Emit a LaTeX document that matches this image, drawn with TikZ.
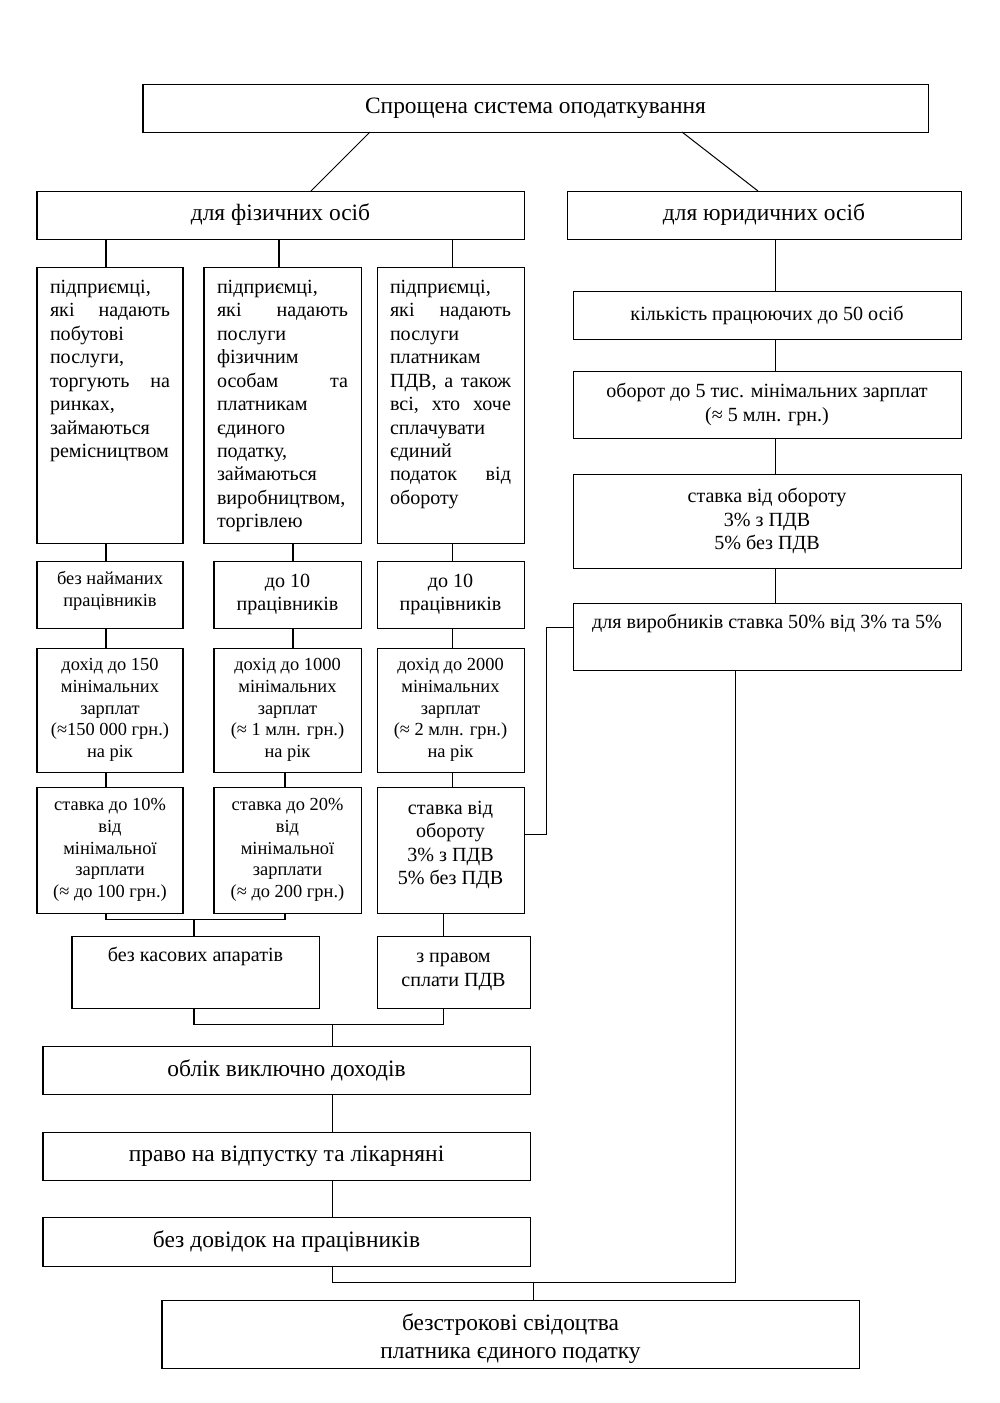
\documentclass[tikz,border=0pt]{standalone}
\usepackage{fontspec}
\setmainfont{Liberation Serif}
\newlength{\unitpx}
\setlength{\unitpx}{0.021cm}
\tikzset{boxsize/.style 2 args={minimum width=#1*\unitpx, minimum height=#2*\unitpx}}
\newcommand{\tallbody}[2]{\parbox[t][256\unitpx][t]{#1\unitpx}{\strut #2}}

\begin{document}
\begin{tikzpicture}[x=0.021cm, y=-0.021cm]
\tikzstyle{block} = [draw=black, line width=0.6pt, anchor=north west, inner sep=0pt, outer sep=0pt, align=center]
\tikzstyle{big} = [font=\fontsize{14}{16}\selectfont]
\tikzstyle{mid} = [font=\fontsize{12}{14}\selectfont]
\tikzstyle{small} = [font=\fontsize{11}{12.9}\selectfont]
\tikzstyle{tall} = [block, mid, inner xsep=13*\unitpx, inner ysep=10*\unitpx]
\tikzstyle{link} = [line width=0.6pt]

\useasboundingbox (0,0) rectangle (1000,1403);

\node (Title) [block, big, boxsize={785}{48}] at (143,84) {Спрощена система оподаткування};
\node (Individuals) [block, big, boxsize={487}{48}] at (37,191) {для фізичних осіб};
\node (Legal) [block, big, boxsize={394}{48}] at (567,191) {для юридичних осіб};

% individuals: three groups
\node (GroupOne) [tall, boxsize={146}{276}] at (37,267) {\tallbody{120}{підприємці,\\ які\hfill надають\\ побутові\\ послуги,\\ торгують\hfill на\\ ринках,\\ займаються\\ ремісництвом}};
\node (GroupTwo) [tall, boxsize={157}{276}] at (204,267) {\tallbody{131}{підприємці,\\ які\hfill надають\\ послуги\\ фізичним\\ особам\hfill та\\ платникам\\ єдиного\\ податку,\\ займаються\\ виробництвом,\\ торгівлею}};
\node (GroupThree) [tall, boxsize={147}{276}] at (377,267) {\tallbody{121}{підприємці,\\ які\hfill надають\\ послуги\\ платникам\\ ПДВ,\hfill а\hfill також\\ всі,\hfill хто\hfill хоче\\ сплачувати\\ єдиний\\ податок\hfill від\\ обороту}};

\node (StaffOne) [block, small, boxsize={146}{67}] at (37,561) {без найманих\\працівників\rule[-7pt]{0pt}{0pt}};
\node (StaffTwo) [block, mid, boxsize={147}{67}] at (214,561) {до 10\\працівників};
\node (StaffThree) [block, mid, boxsize={147}{67}] at (377,561) {до 10\\працівників};

\node (IncomeOne) [block, small, boxsize={146}{124}] at (37,648) {дохід до 150\\мінімальних\\зарплат\\(≈150 000 грн.)\\на рік};
\node (IncomeTwo) [block, small, boxsize={147}{124}] at (214,648) {дохід до 1000\\мінімальних\\зарплат\\(≈ 1 млн. грн.)\\на рік};
\node (IncomeThree) [block, small, boxsize={147}{124}] at (377,648) {дохід до 2000\\мінімальних\\зарплат\\(≈ 2 млн. грн.)\\на рік};

\node (RateOne) [block, small, boxsize={146}{126}] at (37,787) {ставка до 10\%\\від\\мінімальної\\зарплати\\(≈ до 100 грн.)};
\node (RateTwo) [block, small, boxsize={147}{126}] at (214,787) {ставка до 20\%\\від\\мінімальної\\зарплати\\(≈ до 200 грн.)};
\node (RateThree) [block, mid, boxsize={147}{126}] at (377,787) {ставка від\\обороту\\3\% з ПДВ\\5\% без ПДВ\rule[-8.5pt]{0pt}{0pt}};

\node (NoCashRegister) [block, mid, boxsize={247}{72}, text height=25*\unitpx, text depth=47*\unitpx] at (72,936) {без касових апаратів};
\node (VatRight) [block, mid, boxsize={153}{72}] at (377,936) {з правом\\сплати ПДВ};

\node (IncomeOnly) [block, big, boxsize={487}{48}] at (43,1046) {облік виключно доходів};
\node (Leave) [block, big, boxsize={487}{48}] at (43,1132) {право на відпустку та лікарняні};
\node (NoReports) [block, big, boxsize={487}{49}] at (43,1217) {без довідок на працівників};
\node (Certificate) [block, font=\fontsize{14}{16.7}\selectfont, boxsize={697}{68}] at (162,1300) {\rule{0pt}{16pt}безстрокові свідоцтва\\платника єдиного податку};

% legal entities
\node (StaffLimit) [block, mid, boxsize={388}{48}] at (573,291) {кількість працюючих до 50 осіб};
\node (TurnoverLimit) [block, mid, boxsize={388}{67}] at (573,371) {оборот до 5 тис. мінімальних зарплат\\(≈ 5 млн. грн.)};
\node (TurnoverRate) [block, mid, boxsize={388}{94}] at (573,474) {ставка від обороту\\3\% з ПДВ\\5\% без ПДВ};
\node (Producers) [block, mid, boxsize={388}{67}, text height=25*\unitpx, text depth=42*\unitpx] at (573,603) {для виробників ставка 50\% від 3\% та 5\%};

\coordinate (JoinRates) at (194,919);
\coordinate (JoinPrivileges) at (332,1024);
\coordinate (JoinFinal) at (533,1282);

\draw [link] (370,0 |- Title.south) -- (311,0 |- Individuals.north);
\draw [link] (682,0 |- Title.south) -- (758,0 |- Legal.north);

\draw [link] (106,0 |- Individuals.south) -- (106,0 |- GroupOne.north);
\draw [link] (279,0 |- Individuals.south) -- (279,0 |- GroupTwo.north);
\draw [link] (452,0 |- Individuals.south) -- (452,0 |- GroupThree.north);

\draw [link] (106,0 |- GroupOne.south) -- (106,0 |- StaffOne.north);
\draw [link] (293,0 |- GroupTwo.south) -- (293,0 |- StaffTwo.north);
\draw [link] (452,0 |- GroupThree.south) -- (452,0 |- StaffThree.north);

\draw [link] (106,0 |- StaffOne.south) -- (106,0 |- IncomeOne.north);
\draw [link] (293,0 |- StaffTwo.south) -- (293,0 |- IncomeTwo.north);
\draw [link] (452,0 |- StaffThree.south) -- (452,0 |- IncomeThree.north);

\draw [link] (106,0 |- IncomeOne.south) -- (106,0 |- RateOne.north);
\draw [link] (285,0 |- IncomeTwo.south) -- (285,0 |- RateTwo.north);
\draw [link] (452,0 |- IncomeThree.south) -- (452,0 |- RateThree.north);

\draw [link] (106,0 |- RateOne.south) |- (JoinRates) -| (285,0 |- RateTwo.south);
\draw [link] (JoinRates) -- (JoinRates |- NoCashRegister.north);
\draw [link] (443,0 |- RateThree.south) -- (443,0 |- VatRight.north);
\draw [link] (RateThree.east |- 0,834) -- (546,834) |- (Producers.west |- 0,627);

\draw [link] (194,0 |- NoCashRegister.south) |- (JoinPrivileges) -| (443,0 |- VatRight.south);
\draw [link] (JoinPrivileges) -- (JoinPrivileges |- IncomeOnly.north);
\draw [link] (332,0 |- IncomeOnly.south) -- (332,0 |- Leave.north);
\draw [link] (332,0 |- Leave.south) -- (332,0 |- NoReports.north);

\draw [link] (775,0 |- Legal.south) -- (775,0 |- StaffLimit.north);
\draw [link] (775,0 |- StaffLimit.south) -- (775,0 |- TurnoverLimit.north);
\draw [link] (775,0 |- TurnoverLimit.south) -- (775,0 |- TurnoverRate.north);
\draw [link] (775,0 |- TurnoverRate.south) -- (775,0 |- Producers.north);

\draw [link] (332,0 |- NoReports.south) |- (JoinFinal) -| (735,0 |- Producers.south);
\draw [link] (JoinFinal) -- (JoinFinal |- Certificate.north);

\end{tikzpicture}
\end{document}
